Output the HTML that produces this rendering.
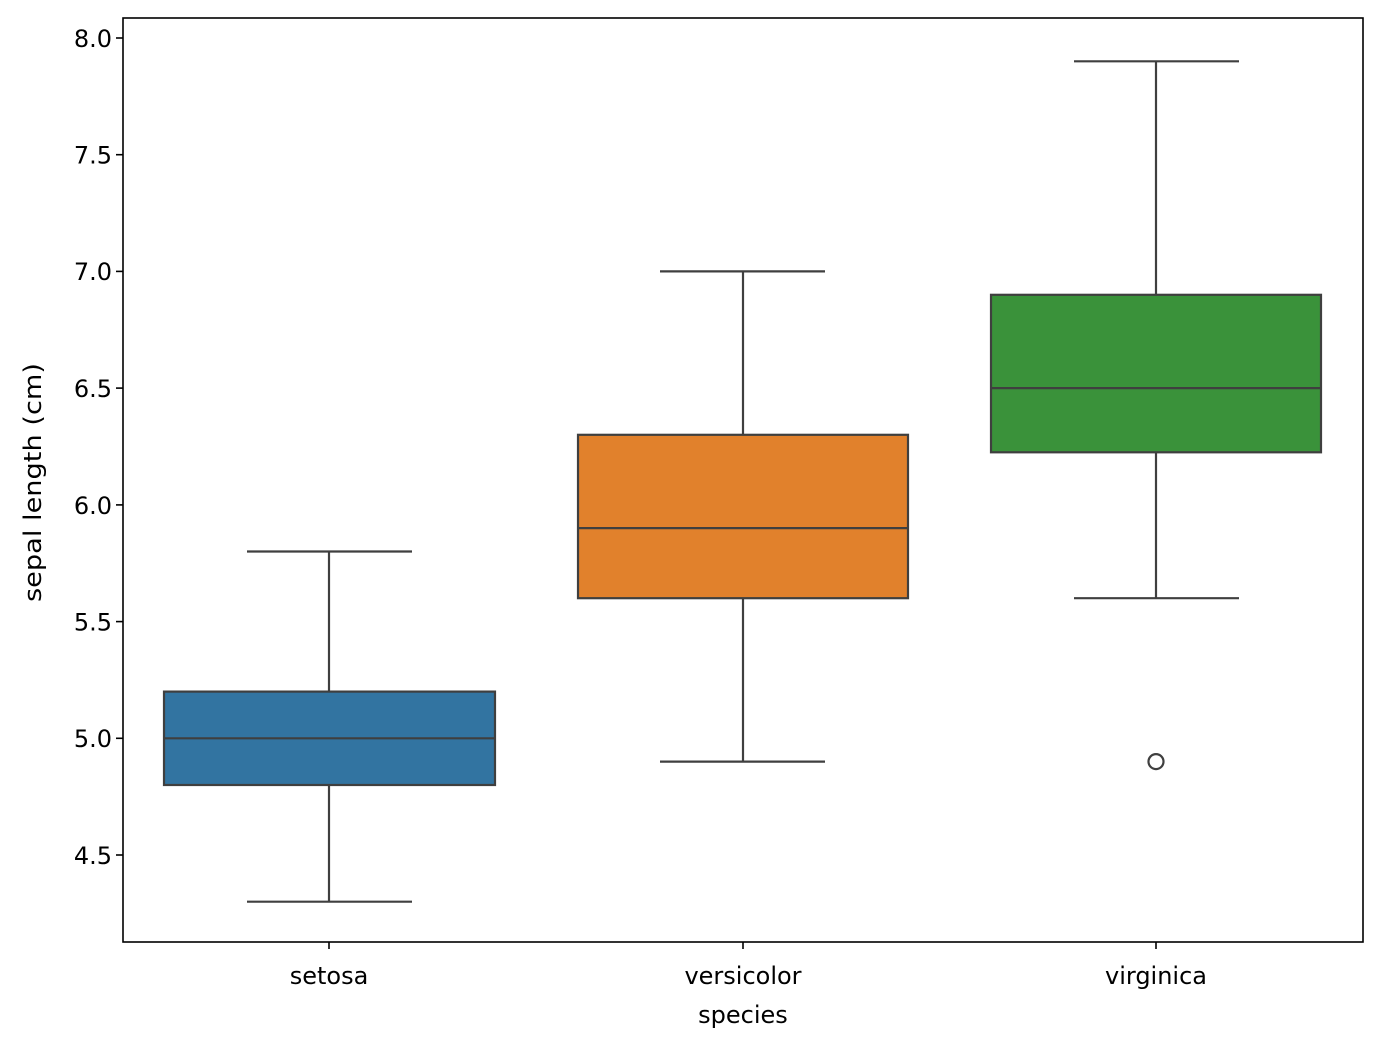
<!DOCTYPE html>
<html><head><style>body{margin:0;background:#fff}svg{display:block}text{font-family:"DejaVu Sans","Liberation Sans",sans-serif;fill:#000;font-size:24px}</style></head>
<body>
<svg width="1382" height="1050" viewBox="0 0 1382 1050" xmlns="http://www.w3.org/2000/svg">
<g stroke="#3f3f3f" stroke-width="2.2" fill="none">
<line x1="329" y1="901.7" x2="329" y2="785"/><line x1="329" y1="691.6" x2="329" y2="551.5"/>
<line x1="247" y1="901.7" x2="412" y2="901.7"/><line x1="247" y1="551.5" x2="412" y2="551.5"/>
<rect x="164" y="691.6" width="331" height="93.4" fill="#3274a1"/>
<line x1="164" y1="738.3" x2="495" y2="738.3"/>
<line x1="743" y1="761.6" x2="743" y2="598.2"/><line x1="743" y1="434.8" x2="743" y2="271.4"/>
<line x1="660" y1="761.6" x2="825" y2="761.6"/><line x1="660" y1="271.4" x2="825" y2="271.4"/>
<rect x="578" y="434.8" width="330" height="163.4" fill="#e1812c"/>
<line x1="578" y1="528.1" x2="908" y2="528.1"/>
<line x1="1156" y1="598.2" x2="1156" y2="452.3"/><line x1="1156" y1="294.8" x2="1156" y2="61.3"/>
<line x1="1074" y1="598.2" x2="1239" y2="598.2"/><line x1="1074" y1="61.3" x2="1239" y2="61.3"/>
<rect x="991" y="294.8" width="330" height="157.5" fill="#3a923a"/>
<line x1="991" y1="388.1" x2="1321" y2="388.1"/>
<circle cx="1156" cy="761.6" r="7.5"/>
</g>
<rect x="123" y="18" width="1240" height="924" fill="none" stroke="#000" stroke-width="1.6"/>
<g stroke="#000" stroke-width="1.6">
<line x1="116" y1="38" x2="123" y2="38"/><line x1="116" y1="154.7" x2="123" y2="154.7"/>
<line x1="116" y1="271.4" x2="123" y2="271.4"/><line x1="116" y1="388.1" x2="123" y2="388.1"/>
<line x1="116" y1="504.9" x2="123" y2="504.9"/><line x1="116" y1="621.6" x2="123" y2="621.6"/>
<line x1="116" y1="738.3" x2="123" y2="738.3"/><line x1="116" y1="855" x2="123" y2="855"/>
<line x1="329" y1="942" x2="329" y2="949"/><line x1="743" y1="942" x2="743" y2="949"/><line x1="1156" y1="942" x2="1156" y2="949"/>
</g>
<g text-anchor="end">
<text x="112" y="47">8.0</text><text x="112" y="163.5">7.5</text><text x="112" y="280">7.0</text>
<text x="112" y="397">6.5</text><text x="112" y="514">6.0</text><text x="112" y="630.5">5.5</text>
<text x="112" y="747">5.0</text><text x="112" y="864">4.5</text>
</g>
<g text-anchor="middle">
<text x="329" y="984">setosa</text><text x="743" y="984">versicolor</text><text x="1156" y="984">virginica</text>
<text x="743" y="1023">species</text>
</g>
<text transform="translate(41,602) rotate(-90)" textLength="239" lengthAdjust="spacingAndGlyphs">sepal length (cm)</text>
</svg>
</body></html>
